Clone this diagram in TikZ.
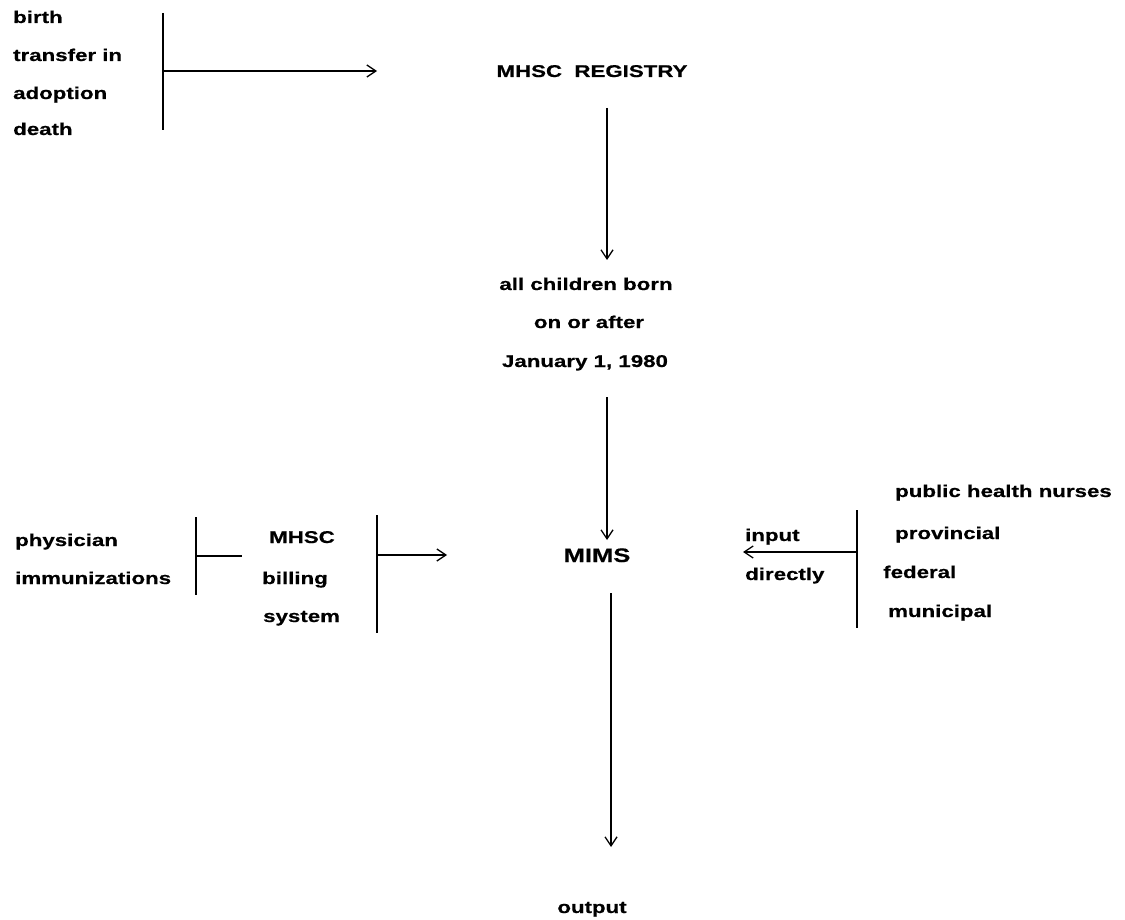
\documentclass[tikz,border=0pt]{standalone}
\usepackage{fontspec}
\setmainfont{Liberation Sans}[FakeStretch=1.31,FakeBold=0.6]
\usetikzlibrary{arrows.meta}
\begin{document}
\begin{tikzpicture}[x=1pt,y=-1pt,
  lbl/.style={inner sep=0pt,font=\fontsize{17}{20}\selectfont\bfseries},
  lw/.style={lbl,anchor=base west},
  lc/.style={lbl,anchor=base},
  bar/.style={line width=2pt},
  arr/.style={line width=1.4pt,-{Straight Barb[length=9pt,width=12pt,line width=1.3pt]}},
  ln/.style={line width=1.4pt}]
\useasboundingbox (0,0) rectangle (1125,920);
% top-left sources
\node[lw] (birth) at (13,23) {birth};
\node[lw] (transfer) at (13,61) {transfer in};
\node[lw] (adoption) at (13,99) {adoption};
\node[lw] (death) at (13,135) {death};
\coordinate (b1t) at (163,13);
\coordinate (b1b) at (163,130);
\coordinate (b1m) at (163,71);
\coordinate (b1e) at (377,71);
\draw[bar] (b1t) -- (b1b);
\draw[arr] (b1m) -- (b1e);
% registry
\node[lc] (reg) at (592,77) {MHSC\ \ REGISTRY};
\coordinate (a1s) at (607,108);
\coordinate (a1e) at (607,260);
\draw[arr] (a1s) -- (a1e);
\node[lc] (all) at (586,290) {all children born};
\node[lc] (onor) at (589,328) {on or after};
\node[lc] (jan) at (585,367) {January 1, 1980};
\coordinate (a2s) at (607,397);
\coordinate (a2e) at (607,540);
\draw[arr] (a2s) -- (a2e);
% MIMS
\node[lc,font=\fontsize{19.5}{22}\selectfont\bfseries] (mims) at (597,562) {MIMS};
\coordinate (a3s) at (611,593);
\coordinate (a3e) at (611,847);
\draw[arr] (a3s) -- (a3e);
\node[lc] (out) at (592,913) {output};
% left group
\node[lw] (phys) at (15,546) {physician};
\node[lw] (imm) at (15,584) {immunizations};
\coordinate (b2t) at (196,517);
\coordinate (b2b) at (196,595);
\coordinate (b2m) at (196,556);
\coordinate (b2e) at (242,556);
\draw[bar] (b2t) -- (b2b);
\draw[ln] (b2m) -- (b2e);
\node[lc] (mhsc) at (302,543) {MHSC};
\node[lw] (bill) at (262,584) {billing};
\node[lw] (sys) at (263,622) {system};
\coordinate (b3t) at (377,515);
\coordinate (b3b) at (377,633);
\coordinate (b3m) at (377,555);
\coordinate (b3e) at (447,555);
\draw[bar] (b3t) -- (b3b);
\draw[arr] (b3m) -- (b3e);
% right group
\node[lw] (phn) at (895,497) {public health nurses};
\node[lw] (prov) at (895,539) {provincial};
\node[lw] (fed) at (883,578) {federal};
\node[lw] (mun) at (888,617) {municipal};
\coordinate (b4t) at (857,510);
\coordinate (b4b) at (857,628);
\coordinate (b4m) at (857,552);
\coordinate (b4e) at (743,552);
\draw[bar] (b4t) -- (b4b);
\draw[arr] (b4m) -- (b4e);
\node[lw] (inp) at (745,541) {input};
\node[lw] (dir) at (745,580) {directly};
\end{tikzpicture}
\end{document}
